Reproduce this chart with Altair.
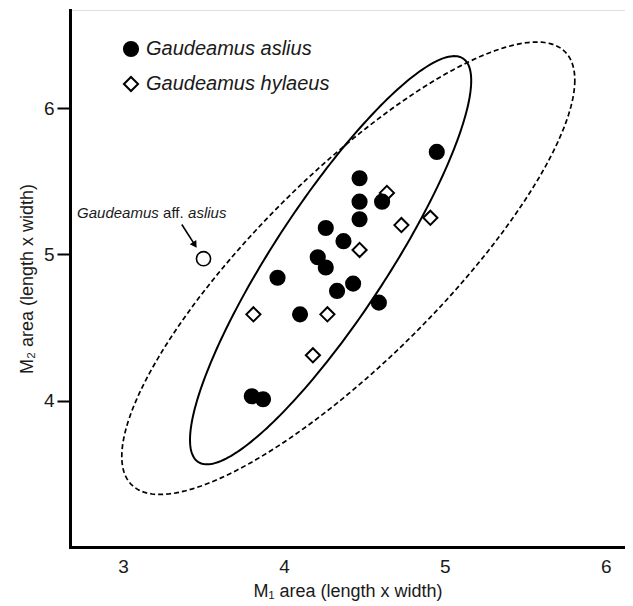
import altair as alt
import numpy as np
import pandas as pd

FONT = "Liberation Sans"
INK = "#1a1a1a"

species = ["Gaudeamus aslius", "Gaudeamus hylaeus"]

# Gaudeamus aslius (filled circles)
aslius_x = [4.47, 4.47, 4.61, 4.47, 4.26, 4.37, 4.21, 4.26, 3.96, 4.43, 4.33, 4.59, 4.10, 4.95, 3.80, 3.87]
aslius_y = [5.52, 5.36, 5.36, 5.24, 5.18, 5.09, 4.98, 4.91, 4.84, 4.80, 4.75, 4.67, 4.59, 5.70, 4.03, 4.01]

# Gaudeamus hylaeus (open diamonds)
hylaeus_x = [4.64, 4.73, 4.91, 4.47, 3.81, 4.27, 4.18]
hylaeus_y = [5.42, 5.20, 5.25, 5.03, 4.59, 4.59, 4.31]

# Gaudeamus aff. aslius (open circle)
aff_x = [3.50]
aff_y = [4.97]

# annotation text anchor and arrow
note_x = [2.714]
note_y = [5.286]
note_parts = ["Gaudeamus", "aff.", "aslius"]
note_styles = ["italic", "normal", "italic"]
arrow_x = [3.365]
arrow_y = [5.204]
arrow_x2 = [3.446]
arrow_y2 = [5.065]

# ellipses: centre, half-range in x, half-range in y, phase shift
ell_names = ["solid", "dashed"]
ell_cx = [4.29, 4.40]
ell_cy = [4.96, 4.905]
ell_ax = [0.874, 1.408]
ell_by = [1.395, 1.546]
ell_phase = [0.495, 0.589]

x_ticks = [3, 4, 5, 6]
y_ticks = [4, 5, 6]

# ---------- tables ----------
pts = pd.DataFrame({
    "x": hylaeus_x + aslius_x,
    "y": hylaeus_y + aslius_y,
    "species": [species[1]] * len(hylaeus_x) + [species[0]] * len(aslius_x),
})

t = np.linspace(0, 2 * np.pi, 241)
rows = []
for name, cx, cy, ax, by, ph in zip(ell_names, ell_cx, ell_cy, ell_ax, ell_by, ell_phase):
    for i, tt in enumerate(t):
        rows.append({"ell": name, "i": i,
                     "x": cx + ax * np.cos(tt),
                     "y": cy + by * np.cos(tt + ph)})
ell = pd.DataFrame(rows)

aff = pd.DataFrame({"x": aff_x, "y": aff_y})
arrow = pd.DataFrame({"x": arrow_x, "y": arrow_y, "x2": arrow_x2, "y2": arrow_y2})
note = pd.DataFrame({"x": note_x, "y": note_y})

# ---------- scales & axes ----------
xscale = alt.Scale(domain=[2.67, 6.12], nice=False, zero=False)
yscale = alt.Scale(domain=[3.0, 6.67], nice=False, zero=False)

xaxis = alt.Axis(values=x_ticks, format="d", title="M₁ area (length x width)",
                 ticks=False, grid=False, domainColor="black", domainWidth=3,
                 domainCap="square",
                 labelFontSize=19, labelPadding=10, labelColor=INK, labelFont=FONT,
                 titleFontSize=18, titlePadding=6, titleColor=INK, titleFont=FONT,
                 titleFontWeight="normal")
yaxis = alt.Axis(values=y_ticks, format="d", title="M₂ area (length x width)",
                 ticks=True, tickSize=13, tickWidth=2, tickColor="black",
                 grid=False, domainColor="black", domainWidth=3, domainCap="square",
                 labelFontSize=19, labelPadding=3, labelColor=INK, labelFont=FONT,
                 titleFontSize=18, titlePadding=7, titleColor=INK, titleFont=FONT,
                 titleFontWeight="normal")

X = alt.X("x:Q", scale=xscale, axis=xaxis)
Y = alt.Y("y:Q", scale=yscale, axis=yaxis)

solid = alt.Chart(ell[ell.ell == "solid"]).mark_line(
    color="black", strokeWidth=2).encode(x=X, y=Y, order="i:Q")
dashed = alt.Chart(ell[ell.ell == "dashed"]).mark_line(
    color="black", strokeWidth=1.7, strokeDash=[5, 3]).encode(x=X, y=Y, order="i:Q")


def make_legend():
    return alt.Legend(title=None, orient="none", legendX=51, legendY=29)


points = alt.Chart(pts).mark_point(filled=True, strokeWidth=2, size=200, opacity=1).encode(
    x=X, y=Y,
    shape=alt.Shape("species:N", scale=alt.Scale(domain=species, range=["circle", "diamond"]),
                    legend=make_legend()),
    fill=alt.Fill("species:N", scale=alt.Scale(domain=species, range=["black", "white"]),
                  legend=make_legend()),
    stroke=alt.Stroke("species:N", scale=alt.Scale(domain=species, range=["black", "black"]),
                      legend=make_legend()),
)

aff_pt = alt.Chart(aff).mark_point(shape="circle", filled=False, color="black",
                                   strokeWidth=1.6, size=200, opacity=1).encode(x=X, y=Y)

arrow_line = alt.Chart(arrow).mark_rule(color="black", strokeWidth=1.6).encode(
    x=X, y=Y, x2="x2:Q", y2="y2:Q")
arrow_head = alt.Chart(arrow).mark_point(shape="triangle-up", filled=True, color="black",
                                         size=60, angle=147, opacity=1).encode(
    x=alt.X("x2:Q", scale=xscale, axis=xaxis), y=alt.Y("y2:Q", scale=yscale, axis=yaxis))

offsets = [0, 86, 111]
texts = [
    alt.Chart(note).mark_text(text=txt, align="left", baseline="middle", dx=dx,
                              font=FONT, fontSize=15, fontStyle=st, color=INK).encode(x=X, y=Y)
    for txt, st, dx in zip(note_parts, note_styles, offsets)
]

chart = alt.layer(dashed, solid, points, aff_pt, arrow_line, arrow_head, *texts).properties(
    width=555, height=537,
    autosize=alt.AutoSizeParams(type="none"),
    padding={"left": 62, "top": 2, "right": 0, "bottom": 58},
).configure_view(stroke=None).configure(background="white").configure_legend(
    labelFontSize=20, labelFontStyle="italic", labelFont=FONT, labelColor=INK,
    symbolSize=200, symbolStrokeWidth=2, rowPadding=11, labelOffset=5, padding=0,
    labelLimit=400,
)

chart.save("out.html", embed_options={"renderer": "svg", "actions": False})
